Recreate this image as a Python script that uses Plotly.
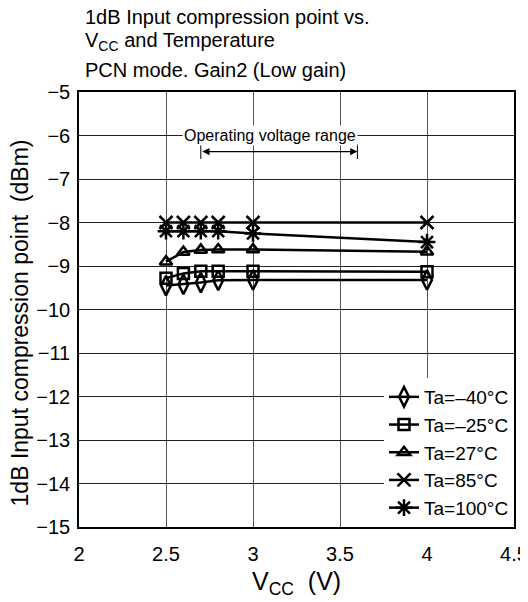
import plotly.graph_objects as go

vcc = [2.5, 2.6, 2.7, 2.8, 3.0, 4.0]
ta_m40 = [-9.45, -9.42, -9.38, -9.33, -9.32, -9.32]
ta_m25 = [-9.28, -9.17, -9.12, -9.12, -9.12, -9.13]
ta_27 = [-8.9, -8.68, -8.63, -8.62, -8.62, -8.67]
ta_85 = [-8.0, -8.0, -8.0, -8.0, -8.0, -8.0]
ta_100 = [-8.2, -8.2, -8.2, -8.2, -8.25, -8.45]

series_names = ["Ta=\u201340\u00b0C", "Ta=\u201325\u00b0C", "Ta=27\u00b0C", "Ta=85\u00b0C", "Ta=100\u00b0C"]
series_values = [ta_m40, ta_m25, ta_27, ta_85, ta_100]

title_lines = ["1dB Input compression point vs.",
               "V<sub>CC</sub> and Temperature",
               "PCN mode. Gain2 (Low gain)"]
x_title = "V<sub>CC</sub>  (V)"
y_title = "1dB Input compression point  (dBm)"
x_ticks = [2, 2.5, 3, 3.5, 4, 4.5]
x_ticklabels = ["2", "2.5", "3", "3.5", "4", "4.5"]
y_ticks = [-5, -6, -7, -8, -9, -10, -11, -12, -13, -14, -15]

op_range = [2.7, 3.6]
op_label = "Operating voltage range"

symbols = ["diamond-tall-open", "square-open", "triangle-up-open", "x-thin-open", "asterisk-open"]
sizes = [14, 11, 11, 13, 14]

FONT = "Liberation Sans, Arial, sans-serif"

fig = go.Figure()
for name, vals, sym, sz in zip(series_names, series_values, symbols, sizes):
    fig.add_trace(go.Scatter(
        x=vcc, y=vals, name=name, mode="lines+markers",
        line=dict(color="black", width=2.5),
        marker=dict(symbol=sym, size=sz, color="black",
                    line=dict(color="black", width=2.5)),
    ))

title_y = [1.1724, 1.1172, 1.0506]
annotations = []
for t, ty in zip(title_lines, title_y):
    annotations.append(dict(
        text=t, xref="paper", yref="paper", x=0.0092, y=ty,
        xanchor="left", yanchor="middle", showarrow=False,
        font=dict(family=FONT, size=20, color="black")))

annotations.append(dict(
    text=x_title, xref="paper", yref="paper", x=0.499, y=-0.128,
    xanchor="center", yanchor="middle", showarrow=False,
    font=dict(family=FONT, size=25, color="black")))
annotations.append(dict(
    text=y_title, xref="paper", yref="paper", x=-0.1356, y=0.468,
    xanchor="center", yanchor="middle", showarrow=False, textangle=-90,
    font=dict(family=FONT, size=23, color="black")))

op_y = -6.37
annotations.append(dict(
    text=op_label, x=sum(op_range) / 2 - 0.05, y=-6.0, xref="x", yref="y",
    showarrow=False, bgcolor="white", borderpad=1,
    font=dict(family=FONT, size=16, color="black")))
annotations.append(dict(
    text="", x=op_range[1], y=op_y, ax=op_range[0], ay=op_y,
    xref="x", yref="y", axref="x", ayref="y",
    showarrow=True, arrowside="end+start", arrowhead=2, arrowsize=1.2,
    arrowwidth=1.2, arrowcolor="black"))

shapes = []
for xv in op_range:
    shapes.append(dict(type="line", xref="x", yref="y", x0=xv, x1=xv,
                       y0=op_y - 0.17, y1=op_y + 0.17,
                       line=dict(color="black", width=1)))

# page body adds an 8px offset; figure is sized to fit the 528x602 window
fig.update_layout(
    width=520, height=594,
    margin=dict(l=71, r=14, t=84, b=75),
    paper_bgcolor="white", plot_bgcolor="white",
    font=dict(family=FONT, size=20, color="black"),
    showlegend=True,
    legend=dict(x=1, y=0.0, xanchor="right", yanchor="bottom",
                bgcolor="white", borderwidth=0,
                font=dict(family=FONT, size=19, color="black"),
                itemwidth=30),
    annotations=annotations,
    shapes=shapes,
    xaxis=dict(range=[2, 4.5], tickvals=x_ticks, ticktext=x_ticklabels,
               showgrid=True, gridcolor="#555", gridwidth=1,
               showline=True, linecolor="black", linewidth=1.5, mirror=True,
               ticks="", zeroline=False, automargin=False,
               ticklabelstandoff=8,
               tickfont=dict(family=FONT, size=20)),
    yaxis=dict(range=[-15, -5], tickvals=y_ticks,
               showgrid=True, gridcolor="#222", gridwidth=1,
               showline=True, linecolor="black", linewidth=1.5, mirror=True,
               ticks="", zeroline=False, automargin=False,
               ticklabelstandoff=3,
               tickfont=dict(family=FONT, size=20)),
)

fig.write_html("out.html")
